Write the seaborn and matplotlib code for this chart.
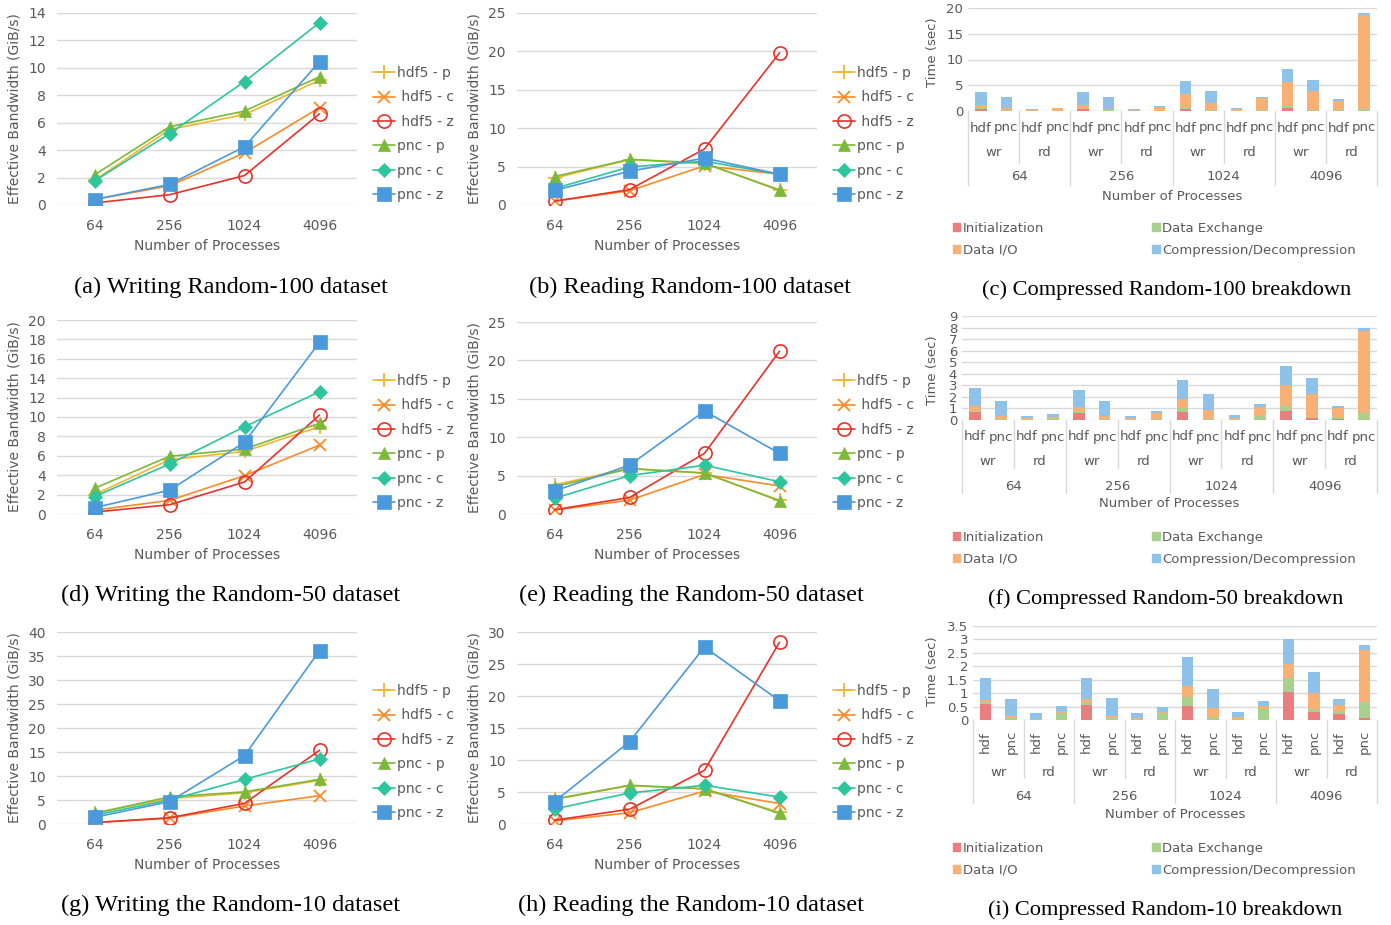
import numpy as np
import matplotlib
matplotlib.use("Agg")
import matplotlib.pyplot as plt
import seaborn as sns
from matplotlib.lines import Line2D
from matplotlib.patches import Patch
from matplotlib.ticker import FuncFormatter
from matplotlib.transforms import blended_transform_factory

# ---------------- data ----------------
procs = ["64", "256", "1024", "4096"]
series = ["hdf5 - p", "hdf5 - c", "hdf5 - z", "pnc - p", "pnc - c", "pnc - z"]
legend_labels = ["hdf5 - p", " hdf5 - c", " hdf5 - z", "pnc - p", "pnc - c", "pnc - z"]

write_r100 = {
    "hdf5 - p": [1.8, 5.5, 6.6, 9.1],
    "hdf5 - c": [0.4, 1.4, 3.8, 7.1],
    "hdf5 - z": [0.15, 0.75, 2.15, 6.65],
    "pnc - p": [2.2, 5.7, 6.85, 9.35],
    "pnc - c": [1.75, 5.2, 9.0, 13.3],
    "pnc - z": [0.4, 1.5, 4.25, 10.45],
}
read_r100 = {
    "hdf5 - p": [3.5, 5.9, 5.4, 2.0],
    "hdf5 - c": [0.5, 1.85, 5.1, 4.0],
    "hdf5 - z": [0.5, 2.0, 7.3, 19.8],
    "pnc - p": [3.7, 5.95, 5.45, 1.9],
    "pnc - c": [2.15, 4.95, 5.7, 4.0],
    "pnc - z": [1.9, 4.4, 6.1, 4.0],
}
write_r50 = {
    "hdf5 - p": [2.0, 5.6, 6.45, 9.0],
    "hdf5 - c": [0.4, 1.4, 3.95, 7.1],
    "hdf5 - z": [0.2, 0.95, 3.3, 10.2],
    "pnc - p": [2.65, 5.95, 6.7, 9.35],
    "pnc - c": [1.8, 5.15, 9.0, 12.6],
    "pnc - z": [0.65, 2.45, 7.4, 17.7],
}
read_r50 = {
    "hdf5 - p": [3.8, 5.95, 5.3, 1.8],
    "hdf5 - c": [0.5, 1.8, 5.15, 3.65],
    "hdf5 - z": [0.55, 2.15, 7.9, 21.2],
    "pnc - p": [3.55, 5.9, 5.35, 1.7],
    "pnc - c": [2.05, 5.0, 6.35, 4.2],
    "pnc - z": [3.0, 6.35, 13.4, 7.9],
}
write_r10 = {
    "hdf5 - p": [2.35, 5.3, 6.5, 9.1],
    "hdf5 - c": [0.3, 1.2, 3.75, 5.9],
    "hdf5 - z": [0.3, 1.3, 4.3, 15.35],
    "pnc - p": [2.2, 5.65, 6.7, 9.3],
    "pnc - c": [1.85, 5.0, 9.3, 13.55],
    "pnc - z": [1.4, 4.65, 14.25, 36.1],
}
read_r10 = {
    "hdf5 - p": [3.85, 6.0, 5.5, 1.8],
    "hdf5 - c": [0.5, 1.75, 5.15, 3.2],
    "hdf5 - z": [0.6, 2.3, 8.4, 28.4],
    "pnc - p": [3.9, 6.05, 5.5, 1.65],
    "pnc - c": [2.35, 4.85, 6.05, 4.2],
    "pnc - z": [3.5, 12.85, 27.65, 19.25],
}

phases = ["wr", "rd"]
libs = ["hdf", "pnc"]
components = ["Initialization", "Data Exchange", "Data I/O", "Compression/Decompression"]

r100_init = [0.4, 0.05, 0.0, 0.0, 0.35, 0.05, 0.0, 0.0, 0.4, 0.05, 0.0, 0.0, 0.65, 0.05, 0.05, 0.05]
r100_exch = [0.1, 0.05, 0.0, 0.05, 0.1, 0.05, 0.0, 0.05, 0.45, 0.1, 0.0, 0.25, 0.4, 0.2, 0.05, 0.4]
r100_io = [0.65, 0.4, 0.1, 0.5, 0.8, 0.35, 0.2, 0.7, 2.45, 1.35, 0.3, 2.2, 4.65, 3.6, 1.9, 18.25]
r100_comp = [2.45, 2.25, 0.3, 0.1, 2.45, 2.25, 0.25, 0.25, 2.55, 2.35, 0.3, 0.3, 2.5, 2.25, 0.4, 0.4]

r50_init = [0.7, 0.02, 0.0, 0.0, 0.58, 0.02, 0.0, 0.0, 0.72, 0.0, 0.02, 0.0, 0.81, 0.17, 0.06, 0.03]
r50_exch = [0.12, 0.05, 0.0, 0.15, 0.07, 0.05, 0.0, 0.12, 0.32, 0.12, 0.0, 0.32, 0.4, 0.12, 0.08, 0.55]
r50_io = [0.38, 0.25, 0.15, 0.15, 0.5, 0.25, 0.15, 0.48, 0.81, 0.72, 0.18, 0.83, 1.85, 1.93, 0.87, 7.15]
r50_comp = [1.55, 1.3, 0.2, 0.2, 1.47, 1.33, 0.2, 0.18, 1.58, 1.38, 0.23, 0.21, 1.58, 1.41, 0.2, 0.2]

r10_init = [0.59, 0.0, 0.0, 0.0, 0.56, 0.0, 0.0, 0.0, 0.51, 0.0, 0.0, 0.0, 1.05, 0.28, 0.23, 0.07]
r10_exch = [0.09, 0.07, 0.05, 0.27, 0.1, 0.07, 0.05, 0.25, 0.36, 0.12, 0.05, 0.41, 0.52, 0.13, 0.05, 0.6]
r10_io = [0.06, 0.08, 0.0, 0.05, 0.12, 0.08, 0.04, 0.05, 0.39, 0.31, 0.06, 0.11, 0.53, 0.6, 0.28, 1.93]
r10_comp = [0.81, 0.62, 0.2, 0.19, 0.8, 0.68, 0.17, 0.17, 1.07, 0.72, 0.17, 0.18, 0.93, 0.76, 0.22, 0.21]

captions = [
    "(a) Writing Random-100 dataset", "(b) Reading Random-100 dataset",
    "(c) Compressed Random-100 breakdown",
    "(d) Writing the Random-50 dataset", "(e) Reading the Random-50 dataset",
    "(f) Compressed Random-50 breakdown",
    "(g) Writing the Random-10 dataset", "(h) Reading the Random-10 dataset",
    "(i) Compressed Random-10 breakdown",
]

# ---------------- style ----------------
sns.set_theme(style="white")
plt.rcParams['font.family'] = ['DejaVu Sans']
TXT = '#595959'
GRID = '#D9D9D9'

styles = {
    "hdf5 - p": dict(c='#F2B631', m='+', ms=10, mfc='#F2B631', mew=1.3),
    "hdf5 - c": dict(c='#FB8A28', m='x', ms=8, mfc='#FB8A28', mew=1.3),
    "hdf5 - z": dict(c='#E8312A', m='o', ms=9.5, mfc='none', mew=1.2),
    "pnc - p": dict(c='#7DB83A', m='^', ms=9, mfc='#7DB83A', mew=0.5),
    "pnc - c": dict(c='#2CC59E', m='D', ms=7, mfc='#2CC59E', mew=0.5),
    "pnc - z": dict(c='#4A9ADB', m='s', ms=9.5, mfc='#4A9ADB', mew=0.5),
}
LW = 1.2
comp_colors = ['#EA7D7D', '#A9D18E', '#F8B075', '#8EC2EA']

W, H = 1391, 925
fig = plt.figure(figsize=(W / 100, H / 100), dpi=100)


def add_ax(box):
    x0, y0, x1, y1 = box
    return fig.add_axes([x0 / W, 1 - y1 / H, (x1 - x0) / W, (y1 - y0) / H])


def ax_x(box, px):
    return (px - box[0]) / (box[2] - box[0])


def ax_y(box, py):
    return (box[3] - py) / (box[3] - box[1])


def fmt(v, p):
    return f'{v:g}'


def line_panel(box, data, ymax, ystep, leg_xy):
    ax = add_ax(box)
    xs = list(range(len(procs)))
    for s in series:
        st = styles[s]
        sns.lineplot(x=xs, y=data[s], ax=ax, color=st['c'], marker=st['m'],
                     markersize=st['ms'], markerfacecolor=st['mfc'],
                     markeredgecolor=st['c'], markeredgewidth=st['mew'],
                     linewidth=LW, errorbar=None, legend=False)
    ax.set_xlim(-0.5, 3.5)
    ax.set_ylim(0, ymax)
    ax.set_yticks(np.arange(0, ymax + 0.001, ystep))
    ax.yaxis.set_major_formatter(FuncFormatter(fmt))
    ax.set_xticks(xs)
    ax.set_xticklabels(procs)
    ax.tick_params(axis='both', length=0, labelsize=10, colors=TXT)
    ax.tick_params(axis='y', pad=8)
    ax.tick_params(axis='x', pad=10)
    ax.grid(axis='y', color=GRID, lw=1)
    ax.grid(axis='x', visible=False)
    ax.set_axisbelow(True)
    for sp in ax.spines.values():
        sp.set_visible(False)
    ax.set_ylabel('Effective Bandwidth (GiB/s)', fontsize=10, color=TXT)
    ax.set_xlabel('Number of Processes', fontsize=10, color=TXT)
    ax.yaxis.set_label_coords(ax_x(box, box[0] - 35), 0.5)
    ax.xaxis.set_label_coords(0.5, ax_y(box, box[3] + 34))
    handles = []
    for s in series:
        st = styles[s]
        handles.append(Line2D([], [], color=st['c'], marker=st['m'], ms=st['ms'],
                              mfc=st['mfc'], mec=st['c'], mew=st['mew'], lw=LW))
    ax.legend(handles, legend_labels, loc='upper left',
              bbox_to_anchor=(leg_xy[0] / W, 1 - leg_xy[1] / H),
              bbox_transform=fig.transFigure, frameon=False, fontsize=10,
              labelcolor=TXT, handlelength=1.6, handletextpad=0.1,
              labelspacing=0.75, borderpad=0, borderaxespad=0)
    return ax


def breakdown_panel(box, init, exch, io, comp, ymax, ystep, rows, seps,
                    rotate_inner, ylab_cy, leg_y):
    ax = add_ax(box)
    keys = [f'{p}|{ph}|{lb}' for p in procs for ph in phases for lb in libs]
    # stacked bars: draw cumulative heights from the top layer downwards
    layers = [init, exch, io, comp]
    cum = []
    run = [0.0] * len(keys)
    for layer in layers:
        run = [a + b for a, b in zip(run, layer)]
        cum.append(run)
    for k in range(3, -1, -1):
        sns.barplot(x=keys, y=cum[k], order=keys, color=comp_colors[k],
                    saturation=1, width=0.45, errorbar=None, ax=ax, linewidth=0)
    n = len(keys)
    ax.set_xlim(-0.5, n - 0.5)
    ax.set_ylim(0, ymax)
    ax.set_yticks(np.arange(0, ymax + 0.001, ystep))
    ax.yaxis.set_major_formatter(FuncFormatter(fmt))
    ax.set_xticks([])
    ax.set_xlabel('')
    ax.tick_params(axis='y', length=0, labelsize=9.5, colors=TXT, pad=3.5)
    ax.grid(axis='y', color=GRID, lw=1)
    ax.grid(axis='x', visible=False)
    ax.set_axisbelow(True)
    for sp in ax.spines.values():
        sp.set_visible(False)
    ax.set_ylabel('Time (sec)', fontsize=9.5, color=TXT)
    ax.yaxis.set_label_coords(ax_x(box, 939), ax_y(box, ylab_cy))
    tr = blended_transform_factory(ax.transData, ax.transAxes)
    for i in range(n):
        ax.text(i, ax_y(box, rows[0]), libs[i % 2], transform=tr, ha='center',
                va='center', fontsize=9.5, color=TXT,
                rotation=90 if rotate_inner else 0, clip_on=False)
    for j in range(n // 2):
        ax.text(2 * j + 0.5, ax_y(box, rows[1]), phases[j % 2], transform=tr,
                ha='center', va='center', fontsize=9.5, color=TXT, clip_on=False)
    for k in range(len(procs)):
        ax.text(4 * k + 1.5, ax_y(box, rows[2]), procs[k], transform=tr,
                ha='center', va='center', fontsize=9.5, color=TXT, clip_on=False)
    ax.text(0.5, ax_y(box, rows[3]), 'Number of Processes', transform=ax.transAxes,
            ha='center', va='center', fontsize=9.5, color=TXT, clip_on=False)
    for k in range(len(procs)):
        xp = 4 * k + 1.5
        ax.add_line(Line2D([xp, xp], [0, ax_y(box, seps[0])], transform=tr,
                           color=GRID, lw=1, clip_on=False))
    for k in range(len(procs) + 1):
        xp = 4 * k - 0.5
        ax.add_line(Line2D([xp, xp], [0, ax_y(box, seps[1])], transform=tr,
                           color=GRID, lw=1, clip_on=False))
    handles = [Patch(color=comp_colors[0]), Patch(color=comp_colors[2]),
               Patch(color=comp_colors[1]), Patch(color=comp_colors[3])]
    labels = [components[0], components[2], components[1], components[3]]
    ax.legend(handles, labels, ncol=2, loc='upper left',
              bbox_to_anchor=(953 / W, 1 - leg_y / H), bbox_transform=fig.transFigure,
              frameon=False, fontsize=9.5, labelcolor=TXT, handlelength=0.55,
              handleheight=0.55, handletextpad=0.2, columnspacing=8.2,
              labelspacing=0.65, borderpad=0, borderaxespad=0)
    return ax


# ---------------- panels ----------------
line_panel((57, 13, 357, 205), write_r100, 14, 2, (373, 66))
line_panel((517, 13, 817, 205), read_r100, 25, 5, (833, 66))
line_panel((57, 320, 357, 514), write_r50, 20, 2, (373, 374))
line_panel((517, 322, 817, 514), read_r50, 25, 5, (833, 374))
line_panel((57, 632, 357, 824), write_r10, 40, 5, (373, 684))
line_panel((517, 632, 817, 824), read_r10, 30, 5, (833, 684))

breakdown_panel((968, 8, 1377, 111), r100_init, r100_exch, r100_io, r100_comp,
                20, 5, (128, 153, 177, 196), (163, 185), False, 52, 222)
breakdown_panel((962, 316, 1377, 420), r50_init, r50_exch, r50_io, r50_comp,
                9, 1, (437, 462, 487, 504), (468, 493), False, 370, 531)
breakdown_panel((973, 626, 1377, 720), r10_init, r10_exch, r10_io, r10_comp,
                3.5, 0.5, (742, 772, 797, 815), (778, 803), True, 671, 842)

cap_pos = [(231, 287), (690, 287), (1167, 290),
           (231, 595), (691, 595), (1166, 599),
           (231, 905), (691, 905), (1165, 910)]
cap_size = [17.5, 17.5, 16.1, 17.5, 17.5, 16.1, 17.5, 17.5, 16.1]
for text, (cx, cy), fs in zip(captions, cap_pos, cap_size):
    fig.text(cx / W, 1 - cy / H, text, ha='center', va='center',
             fontsize=fs, family=['Liberation Serif', 'DejaVu Serif'], color='black')

fig.savefig('out.png', dpi=100)
